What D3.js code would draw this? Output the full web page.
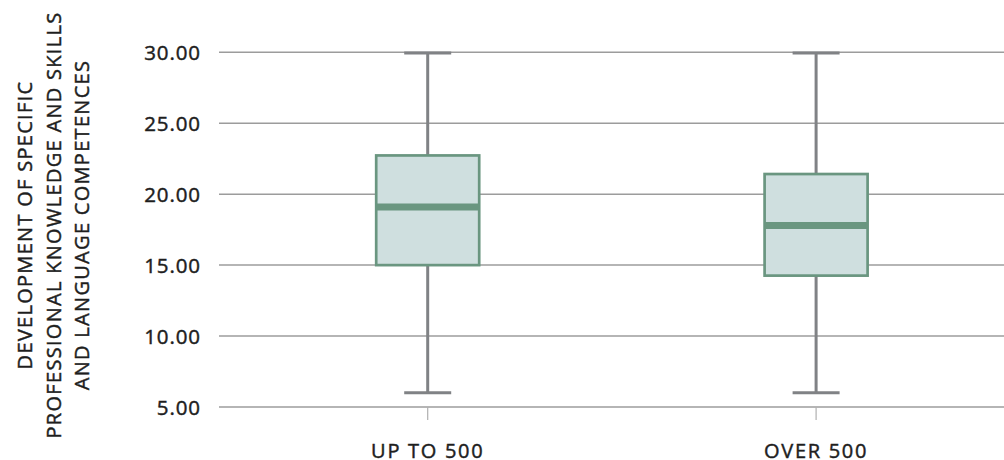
<!DOCTYPE html>
<html>
<head>
<meta charset="utf-8">
<script src="https://cdn.jsdelivr.net/npm/d3@7"></script>
<style>
  html, body { margin: 0; padding: 0; background: #fff; }
  svg { display: block; }
  text { font-family: "Open Sans", sans-serif; fill: #1e1e1e; }
</style>
</head>
<body>
<svg id="chart" width="1004" height="460"></svg>
<script>
const categories = ["UP TO 500", "OVER 500"];
const whiskerLow  = [6.0, 6.0];
const q1          = [15.0, 14.26];
const median      = [19.1, 17.8];
const q3          = [22.73, 21.42];
const whiskerHigh = [29.95, 29.95];
const yTicks = [5, 10, 15, 20, 25, 30];
const yTitleLines = ["DEVELOPMENT OF SPECIFIC", "PROFESSIONAL KNOWLEDGE AND SKILLS", "AND LANGUAGE COMPETENCES"];

const data = categories.map((c, i) => ({
  cat: c, lo: whiskerLow[i], q1: q1[i], med: median[i], q3: q3[i], hi: whiskerHigh[i]
}));

const svg = d3.select("#chart");
const gridLeft = 219, gridRight = 1004;
const textColor = "#1e1e1e";

const y = d3.scaleLinear().domain([5, 30]).range([407, 52.3]);
const x = d3.scaleBand().domain(categories).range([233.5, 1010.3]).paddingInner(0).paddingOuter(0);

function medium(sel) {
  sel.attr("fill", textColor)
    .attr("stroke", textColor)
    .attr("stroke-width", 0.45)
    .style("paint-order", "stroke");
}

// gridlines
svg.append("g").selectAll("line").data(yTicks).join("line")
  .attr("x1", gridLeft).attr("x2", gridRight)
  .attr("y1", d => y(d)).attr("y2", d => y(d))
  .attr("stroke", "#9c9c9c").attr("stroke-width", 1.5);

// y axis labels
const yAxis = d3.axisLeft(y).tickValues(yTicks).tickFormat(d3.format(".2f")).tickSize(0).tickPadding(0);
const gy = svg.append("g").attr("transform", `translate(${gridLeft - 18},0)`).call(yAxis);
gy.select(".domain").remove();
gy.selectAll("text")
  .style("font-family", '"Open Sans", sans-serif')
  .style("font-size", "20.5px")
  .style("letter-spacing", "0.9px")
  .attr("dy", "0.36em")
  .call(medium);

// x axis
const xAxis = d3.axisBottom(x).tickSize(13).tickPadding(23);
const gx = svg.append("g").attr("transform", `translate(0,${y(5)})`).call(xAxis);
gx.select(".domain").remove();
gx.selectAll(".tick line").attr("stroke", "#b0b0b0").attr("stroke-width", 1.2);
gx.selectAll("text")
  .style("font-family", '"Open Sans", sans-serif')
  .style("font-size", "20px")
  .style("letter-spacing", "1.7px")
  .attr("y", 50.7).attr("dy", 0)
  .call(medium);

// boxes
const boxW = 103, capW = 47;
const g = svg.append("g");
const cx = d => x(d.cat) + x.bandwidth() / 2;

g.selectAll(".whisker").data(data).join("line").attr("class", "whisker")
  .attr("x1", cx).attr("x2", cx)
  .attr("y1", d => y(d.hi)).attr("y2", d => y(d.lo))
  .attr("stroke", "#808285").attr("stroke-width", 3);

g.selectAll(".capHi").data(data).join("line").attr("class", "capHi")
  .attr("x1", d => cx(d) - capW / 2).attr("x2", d => cx(d) + capW / 2)
  .attr("y1", d => y(d.hi)).attr("y2", d => y(d.hi))
  .attr("stroke", "#808285").attr("stroke-width", 3);

g.selectAll(".capLo").data(data).join("line").attr("class", "capLo")
  .attr("x1", d => cx(d) - capW / 2).attr("x2", d => cx(d) + capW / 2)
  .attr("y1", d => y(d.lo)).attr("y2", d => y(d.lo))
  .attr("stroke", "#808285").attr("stroke-width", 3);

g.selectAll(".box").data(data).join("rect").attr("class", "box")
  .attr("x", d => cx(d) - boxW / 2).attr("width", boxW)
  .attr("y", d => y(d.q3)).attr("height", d => y(d.q1) - y(d.q3))
  .attr("fill", "#cfdfdf").attr("stroke", "#6a9680").attr("stroke-width", 2.7);

g.selectAll(".med").data(data).join("line").attr("class", "med")
  .attr("x1", d => cx(d) - boxW / 2).attr("x2", d => cx(d) + boxW / 2)
  .attr("y1", d => y(d.med)).attr("y2", d => y(d.med))
  .attr("stroke", "#6a9680").attr("stroke-width", 7);

// y title
const title = svg.append("text")
  .attr("transform", "translate(53.5,225) rotate(-90)")
  .attr("text-anchor", "middle")
  .style("font-size", "20px")
  .style("letter-spacing", "1.3px")
  .call(medium);
title.selectAll("tspan").data(yTitleLines).join("tspan")
  .attr("x", 0).attr("y", (d, i) => (i - 1) * 28.5)
  .attr("dy", "0.36em")
  .text(d => d);
</script>
</body>
</html>
